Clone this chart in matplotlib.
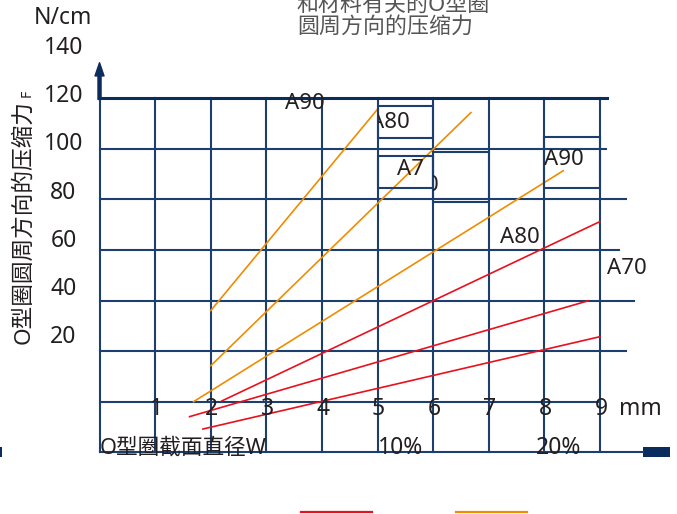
import matplotlib.pyplot as plt
from matplotlib.patches import Rectangle

plt.rcParams['font.family'] = ['Noto Sans', 'Noto Sans CJK SC']

# O-ring cross-section diameter W (mm) vs circumferential compression force F (N/cm)
orange_x = [[2.0, 5.0], [2.0, 6.68], [1.69, 8.34]]
orange_y = [[36.0, 115.6], [14.2, 114.3], [0.0, 91.3]]
red_x = [[2.2, 9.0], [1.62, 8.79], [1.86, 9.0]]
red_y = [[0.3, 71.2], [-5.9, 39.9], [-10.8, 25.7]]

x_ticks = [1, 2, 3, 4, 5, 6, 7, 8, 9]
y_ticks = [20, 40, 60, 80, 100, 120, 140]
grid_y = [-20, 0, 20, 40, 60, 80, 100, 120]
grid_right = [9.78, 9.0, 9.47, 9.61, 9.34, 9.47, 9.11, 9.13]

navy = '#1d3f6f'
dark_navy = '#0b2d5e'
ink = '#231f20'

fig = plt.figure(figsize=(6.77, 5.14), dpi=100)
ax = fig.add_axes([0, 0, 1, 1])
ax.set_xlim(-1.79, 10.387)
ax.set_ylim(-44.39, 158.8)
ax.axis('off')

# grid
for x in range(0, 10):
    ax.plot([x, x], [-20, 120], color=navy, lw=1.5, zorder=2)
for y, xr in zip(grid_y, grid_right):
    lw, c = (2.2, dark_navy) if y == 120 else (1.5, navy)
    ax.plot([0, xr], [y, y], color=c, lw=lw, zorder=2)

# y axis arrow
ax.annotate('', xy=(0, 134), xytext=(0, 119.5),
            arrowprops=dict(width=2.2, headwidth=6.5, headlength=9.5,
                            color=dark_navy, shrink=0), zorder=3)

# label boxes
boxes = [(5.0, 6.0, 104.4, 117.0), (5.0, 6.0, 84.6, 97.1),
         (6.0, 7.0, 78.8, 98.8), (8.0, 9.0, 84.4, 104.5)]
for x0, x1, y0, y1 in boxes:
    ax.add_patch(Rectangle((x0, y0), x1 - x0, y1 - y0, fill=False, ec=navy,
                           lw=1.5, zorder=4))

# curves
for xs, ys in zip(orange_x, orange_y):
    ax.plot(xs, ys, color='#f08c00', lw=1.2, zorder=3)
for xs, ys in zip(red_x, red_y):
    ax.plot(xs, ys, color='#e8111d', lw=1.2, zorder=3)

lab = dict(fontsize=16, color=ink, ha='center', va='center', zorder=5)
ax.text(3.70, 117.7, 'A90', **lab)
t = ax.text(5.22, 110.2, 'A80', clip_on=True, **lab)
t.set_clip_path(Rectangle((5.0, 104.4), 1.0, 12.6, transform=ax.transData))
ax.text(5.59, 91.6, 'A7', **lab)
t = ax.text(5.99, 85.5, '0', clip_on=True, **lab)
t.set_clip_path(Rectangle((6.0, 78.8), 1.0, 20.0, transform=ax.transData))
ax.text(8.35, 95.9, 'A90', **lab)
ax.text(7.56, 65.1, 'A80', **lab)
ax.text(9.49, 52.8, 'A70', **lab)

# tick labels
tk = dict(fontsize=16.5, color=ink, ha='center', va='center')
for v in y_ticks:
    ax.text(-0.65, 25.7 + (v - 20) * 0.95, str(v), **tk)
for v in x_ticks:
    ax.text(v + 0.02, -2.9, str(v), **tk)
ax.text(9.72, -2.9, 'mm', **tk)
ax.text(-0.656, 151.7, 'N/cm', **tk)

ax.text(0.0, -18.3, 'O型圈截面直径W', fontsize=15.6, color=ink, ha='left', va='center')
ax.text(5.42, -18.3, '10%', **tk)
ax.text(8.25, -18.3, '20%', **tk)

ax.text(-1.36, 71.0, 'O型圈圆周方向的压缩力', fontsize=16.3, color=ink, rotation=90,
        ha='center', va='center')
ax.text(-1.31, 121.8, 'F', fontsize=10, color=ink, rotation=90, ha='center', va='center')

ax.text(3.55, 156.8, '和材料有关的O型圈', fontsize=15.8, color='#555555', ha='left', va='center')
ax.text(3.55, 148.1, '圆周方向的压缩力', fontsize=15.8, color='#555555', ha='left', va='center')

# small marks at the bottom edge
ax.add_patch(Rectangle((9.78, -21.8), 0.48, 3.9, color=dark_navy, lw=0))
ax.add_patch(Rectangle((-1.79, -21.8), 0.04, 3.9, color=dark_navy, lw=0))
ax.plot([3.62, 4.90], [-43.6, -43.6], color='#e8111d', lw=1.6)
ax.plot([6.41, 7.69], [-43.6, -43.6], color='#f08c00', lw=1.6)

fig.savefig('out.png', dpi=100)
